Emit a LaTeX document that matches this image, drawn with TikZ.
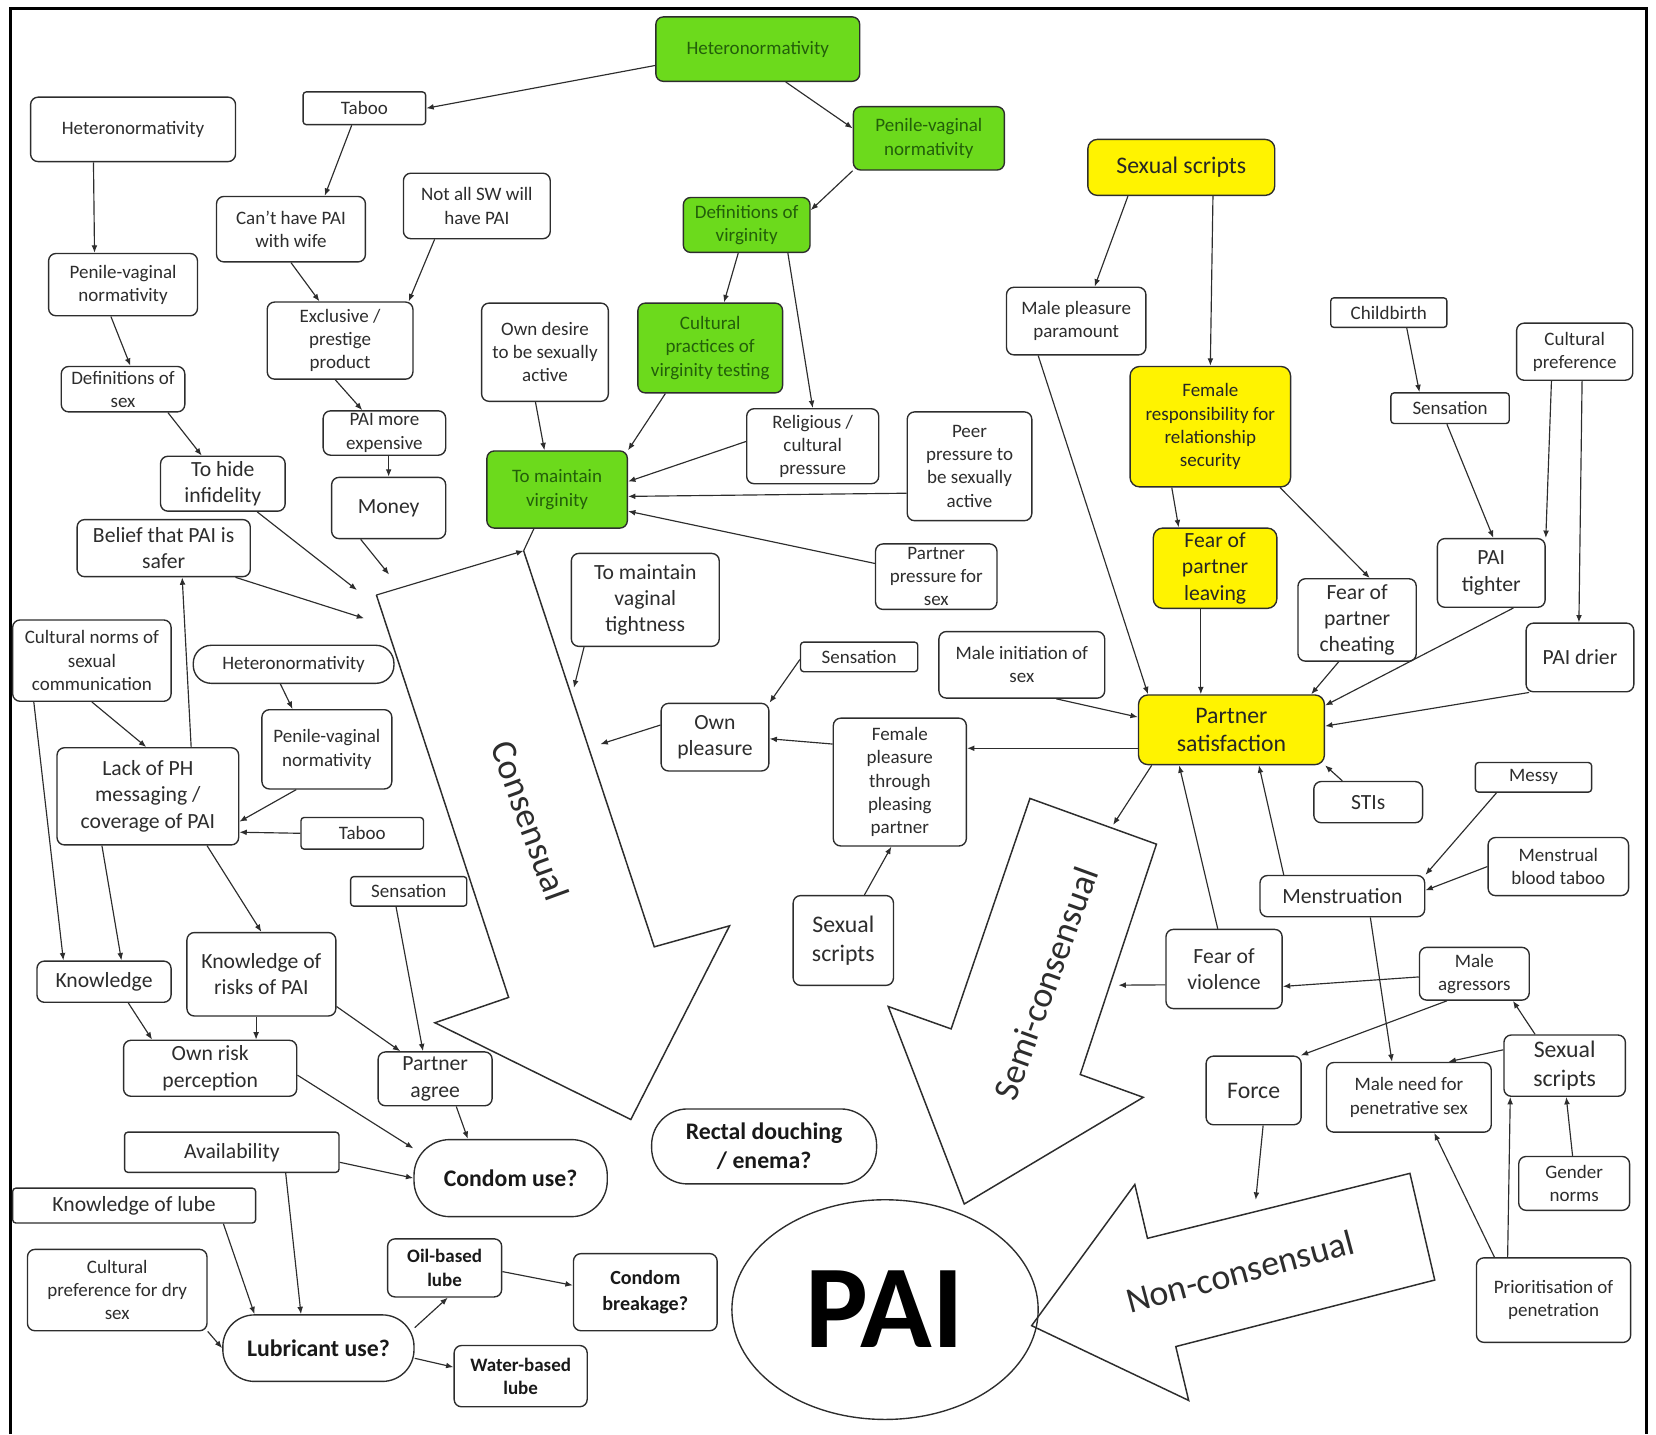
\documentclass[tikz,border=0pt]{standalone}
\usepackage{fontspec}
\setmainfont{Carlito}
\usetikzlibrary{arrows.meta,shapes.geometric}
\definecolor{leafgreen}{RGB}{108,218,28}
\definecolor{darkleaf}{RGB}{35,95,10}
\definecolor{signyellow}{RGB}{255,243,0}
\definecolor{inkgray}{RGB}{45,45,45}
\newcommand{\szs}{\fontsize{18}{22}\selectfont}
\newcommand{\szm}{\fontsize{20.5}{25}\selectfont}
\newcommand{\szl}{\fontsize{22.5}{27}\selectfont}
\begin{document}
\begin{tikzpicture}[x=1pt,y=-1pt,
  base/.style={draw=inkgray, line width=1.3pt, inner sep=2pt, align=center, text=inkgray, font=\szs},
  wbox/.style={base, rounded corners=7pt, fill=white},
  sbox/.style={base, rounded corners=3pt, fill=white},
  gbox/.style={base, rounded corners=7pt, fill=leafgreen, text=darkleaf},
  ybox/.style={base, rounded corners=9pt, fill=signyellow, text=black!85},
  pill/.style={base, rounded corners=17pt, fill=white, text=black!90, font=\szl\bfseries},
  bbox/.style={wbox, text=black!90, font=\szs\bfseries},
  link/.style={-{Latex[length=7pt,width=5.5pt]}, line width=1.1pt, draw=inkgray},
  bigarrow/.style={draw=inkgray, line width=1.4pt, fill=white, line join=miter},
  bigtext/.style={font=\fontsize{34}{34}\selectfont, text=inkgray}]
\useasboundingbox (0,0) rectangle (1568,1358);
\draw[line width=2.2pt] (10,1358) -- (10,8) -- (1559,8) -- (1559,1358);

\coordinate (consA) at (356.4,563.4);
\coordinate (consB) at (495.8,521.5);
\draw[bigarrow] (consB) -- (619.5,896.5) -- (690.8,876.6) -- (597.3,1060) -- (411.8,968.4) -- (481.6,944.4) -- (consA);
\draw[link] (consA) -- (consB);
\node[bigtext, rotate=-70] (conslabel) at (502,777) {Consensual};
\draw[bigarrow] (975.2,756) -- (1095,799.3) -- (1022.8,1017.4) -- (1082.5,1039) -- (913,1140) -- (841,953) -- (900.6,974.2) -- cycle;
\node[bigtext, rotate=70] (semilabel) at (990,931) {Semi-consensual};
\draw[bigarrow] (976.8,1255.2) -- (1074.5,1121.5) -- (1086.5,1172.5) -- (1335,1111) -- (1358.5,1212) -- (1113.3,1275) -- (1125.5,1326) -- cycle;
\node[bigtext, rotate=15] (nonlabel) at (1174,1204) {Non-consensual};
\node[draw=inkgray, line width=1.3pt, ellipse, minimum width=290pt, minimum height=208pt, inner sep=0pt, text=black, font=\fontsize{112}{112}\selectfont\bfseries] (pai) at (838,1240) {\raisebox{-10pt}{PAI}};

\node[gbox, minimum width=193pt, minimum height=61pt] (heteroG) at (717.5,46.5) {Heteronormativity};
\node[gbox, minimum width=143pt, minimum height=60pt] (pvnG) at (879.5,131) {Penile-vaginal\\normativity};
\node[gbox, minimum width=120pt, minimum height=52pt] (defvirG) at (707,213) {Definitions of\\virginity};
\node[gbox, minimum width=137pt, minimum height=85pt] (cultG) at (672.5,329.5) {Cultural\\practices of\\virginity testing};
\node[gbox, minimum width=133pt, minimum height=73pt] (virgG) at (527.5,463.5) {To maintain\\virginity};
\node[ybox, font=\szl, minimum width=177pt, minimum height=53pt] (scriptsY) at (1118.5,158.5) {Sexual scripts};
\node[ybox, minimum width=152pt, minimum height=114pt] (femrespY) at (1146,404) {Female\\responsibility for\\relationship\\security};
\node[ybox, font=\szm, minimum width=117pt, minimum height=76pt] (fearleaveY) at (1150.5,538) {Fear of\\partner\\leaving};
\node[ybox, font=\szl, minimum width=176pt, minimum height=66pt] (partsatY) at (1166,691) {Partner\\satisfaction};

\node[sbox, minimum width=116pt, minimum height=31pt] (taboo1) at (345,102.5) {Taboo};
\node[wbox, minimum width=194pt, minimum height=61pt] (hetero1) at (126,122.5) {Heteronormativity};
\node[wbox, minimum width=141pt, minimum height=62pt] (cant) at (275.5,217) {Can't have PAI\\with wife};
\node[wbox, minimum width=139pt, minimum height=62pt] (notall) at (451.5,195) {Not all SW will\\have PAI};
\node[wbox, minimum width=141pt, minimum height=59pt] (pvn1) at (116.5,269.5) {Penile-vaginal\\normativity};
\node[wbox, minimum width=138pt, minimum height=73pt] (excl) at (322,322.5) {Exclusive /\\prestige\\product};
\node[wbox, minimum width=117pt, minimum height=43pt] (defsex) at (116.5,368.5) {Definitions of\\sex};
\node[wbox, minimum width=120pt, minimum height=93pt] (owndesire) at (516,333.5) {Own desire\\to be sexually\\active};
\node[wbox, minimum width=116pt, minimum height=42pt] (paimore) at (364,410) {PAI more\\expensive};
\node[wbox, font=\szm, minimum width=118pt, minimum height=52pt] (hide) at (211,458) {To hide\\infidelity};
\node[wbox, font=\szm, minimum width=108pt, minimum height=58pt] (money) at (368,481) {Money};
\node[wbox, font=\szm, minimum width=164pt, minimum height=54pt] (belief) at (155,519) {Belief that PAI is\\safer};
\node[wbox, minimum width=125pt, minimum height=71pt] (religious) at (769.5,422.5) {Religious /\\cultural\\pressure};
\node[wbox, minimum width=118pt, minimum height=103pt] (peer) at (918,441.5) {Peer\\pressure to\\be sexually\\active};
\node[wbox, minimum width=132pt, minimum height=64pt] (malepleas) at (1019,304) {Male pleasure\\paramount};
\node[sbox, minimum width=110pt, minimum height=28pt] (childbirth) at (1315,296) {Childbirth};
\node[wbox, minimum width=110pt, minimum height=54pt] (cultpref) at (1491,333) {Cultural\\preference};
\node[sbox, minimum width=112pt, minimum height=29pt] (sensR) at (1373,386.5) {Sensation};
\node[wbox, font=\szm, minimum width=102pt, minimum height=65pt] (paitight) at (1412,542.5) {PAI\\tighter};
\node[wbox, font=\szm, minimum width=102pt, minimum height=65pt] (paidrier) at (1496,622.5) {PAI drier};
\node[wbox, font=\szm, minimum width=112pt, minimum height=78pt] (fearcheat) at (1285,587) {Fear of\\partner\\cheating};
\node[wbox, minimum width=115pt, minimum height=62pt] (partpress) at (886.5,546) {Partner\\pressure for\\sex};
\node[wbox, font=\szm, minimum width=140pt, minimum height=88pt] (vagtight) at (611,568) {To maintain\\vaginal\\tightness};
\node[sbox, minimum width=111pt, minimum height=28pt] (sensM) at (813.5,622) {Sensation};
\node[wbox, minimum width=157pt, minimum height=63pt] (maleinit) at (967.5,629.5) {Male initiation of\\sex};
\node[wbox, font=\szm, minimum width=102pt, minimum height=64pt] (ownpleas) at (677,698) {Own\\pleasure};
\node[wbox, minimum width=126pt, minimum height=121pt] (fempleas) at (852,740.5) {Female\\pleasure\\through\\pleasing\\partner};
\node[wbox, font=\szl, minimum width=95pt, minimum height=85pt] (scriptsM) at (798.5,890.5) {Sexual\\scripts};
\node[wbox, font=\szm, minimum width=103pt, minimum height=39pt] (stis) at (1295.5,759.5) {STIs};
\node[sbox, minimum width=110pt, minimum height=28pt] (messy) at (1452,736) {Messy};
\node[wbox, minimum width=133pt, minimum height=55pt] (menstaboo) at (1475.5,820.5) {Menstrual\\blood taboo};
\node[wbox, font=\szm, minimum width=156pt, minimum height=39pt] (mens) at (1271,848.5) {Menstruation};
\node[wbox, font=\szm, minimum width=110pt, minimum height=75pt] (fearviol) at (1159,917.5) {Fear of\\violence};
\node[wbox, minimum width=104pt, minimum height=50pt] (maleagr) at (1396,922) {Male\\agressors};
\node[wbox, font=\szl, minimum width=90pt, minimum height=65pt] (force) at (1187,1032.5) {Force};
\node[wbox, minimum width=156pt, minimum height=66pt] (maleneed) at (1334,1039) {Male need for\\penetrative sex};
\node[wbox, font=\szl, minimum width=115pt, minimum height=58pt] (scriptsR) at (1481.5,1009) {Sexual\\scripts};
\node[wbox, minimum width=105pt, minimum height=51pt] (gender) at (1490.5,1120.5) {Gender\\norms};
\node[wbox, minimum width=146pt, minimum height=80pt] (priorit) at (1471,1231) {Prioritisation of\\penetration};
\node[wbox, minimum width=150pt, minimum height=77pt] (cultnorms) at (87,625.5) {Cultural norms of\\sexual\\communication};
\node[wbox, rounded corners=17pt, minimum width=190pt, minimum height=36pt] (heteroP) at (278,629) {Heteronormativity};
\node[wbox, minimum width=123pt, minimum height=75pt] (pvn2) at (309.5,709.5) {Penile-vaginal\\normativity};
\node[wbox, font=\szm, minimum width=172pt, minimum height=92pt] (lack) at (140,754) {Lack of PH\\messaging /\\coverage of PAI};
\node[sbox, minimum width=116pt, minimum height=30pt] (taboo2) at (343,789) {Taboo};
\node[sbox, minimum width=110pt, minimum height=28pt] (sensL) at (387,844) {Sensation};
\node[wbox, font=\szm, minimum width=127pt, minimum height=39pt] (knowledge) at (98.5,929.5) {Knowledge};
\node[wbox, font=\szm, minimum width=141pt, minimum height=79pt] (knowrisk) at (247.5,922.5) {Knowledge of\\risks of PAI};
\node[wbox, font=\szm, minimum width=164pt, minimum height=53pt] (ownrisk) at (199,1011.5) {Own risk\\perception};
\node[wbox, font=\szm, minimum width=108pt, minimum height=51pt] (partagree) at (412,1021.5) {Partner\\agree};
\node[sbox, font=\szm, minimum width=203pt, minimum height=38pt] (avail) at (219.5,1091) {Availability};
\node[pill, rounded corners=34pt, minimum width=183pt, minimum height=73pt] (condom) at (483.5,1115.5) {Condom use?};
\node[sbox, font=\szm, minimum width=230pt, minimum height=33pt] (knowlube) at (127,1141.5) {Knowledge of lube};
\node[wbox, minimum width=170pt, minimum height=77pt] (cultdry) at (111,1221.5) {Cultural\\preference for dry\\sex};
\node[pill, rounded corners=30pt, minimum width=181pt, minimum height=63pt] (lubric) at (301.5,1276.5) {Lubricant use?};
\node[bbox, minimum width=108pt, minimum height=55pt] (oil) at (421,1200.5) {Oil-based\\lube};
\node[bbox, minimum width=126pt, minimum height=58pt] (water) at (493,1303) {Water-based\\lube};
\node[bbox, font=\fontsize{19}{24}\selectfont\bfseries, minimum width=136pt, minimum height=73pt] (breakage) at (611,1223.5) {Condom\\breakage?};
\node[pill, rounded corners=34pt, minimum width=213pt, minimum height=71pt] (rectal) at (723.5,1085.5) {Rectal douching\\/ enema?};

\coordinate (hideEnd) at (338,558.7);
\coordinate (moneyEnd) at (368.4,544);
\coordinate (beliefEnd) at (344.8,585.5);
\coordinate (vagEnd) at (543.4,651.2);
\coordinate (ownEnd) at (568.5,704.6);
\coordinate (satEnd) at (1054,781);
\coordinate (violEnd) at (1059,932.8);
\coordinate (forceEnd) at (1189,1136);

\draw[link] ([yshift=-15.5pt]heteroG.west) -- (taboo1.east);
\draw[link] ([xshift=26.5pt]heteroG.south) -- ([yshift=9.5pt]pvnG.west);
\draw[link] (pvnG.south west) -- ([yshift=14pt]defvirG.east);
\draw[link] ([xshift=-8pt]defvirG.south) -- ([xshift=13pt]cultG.north);
\draw[link] ([xshift=39pt]defvirG.south) -- (religious.north);
\draw[link] ([xshift=-42.5pt]cultG.south) -- (virgG.north east);
\draw[link] ([xshift=-9pt]owndesire.south) -- ([xshift=-12pt]virgG.north);
\draw[link] ([yshift=4.5pt]religious.west) -- ([yshift=7.5pt]virgG.east);
\draw[link] ([yshift=-25.5pt]peer.west) -- ([yshift=-6.5pt]virgG.east);
\draw[link] ([yshift=12.5pt]partpress.west) -- ([yshift=-20.5pt]virgG.east);
\draw[line width=1.1pt, draw=inkgray] ([xshift=-22pt]virgG.south) -- (consB);

\draw[link] ([xshift=-12pt]taboo1.south) -- ([xshift=32pt]cant.north);
\draw[link] (cant.south) -- ([xshift=-19.5pt]excl.north);
\draw[link] ([xshift=-40pt]notall.south) -- ([xshift=65pt]excl.north);
\draw[link] ([xshift=-4.5pt]excl.south) -- ([xshift=-21pt]paimore.north);
\draw[link] ([xshift=4pt]paimore.south) -- (money.north);
\draw[link] ([xshift=-37.5pt]hetero1.south) -- ([xshift=-27pt]pvn1.north);
\draw[link] ([xshift=-11.5pt]pvn1.south) -- ([xshift=7pt]defsex.north);
\draw[link] ([xshift=42.5pt]defsex.south) -- ([xshift=-20pt]hide.north);
\draw[link] ([xshift=32.5pt]hide.south) -- (hideEnd);
\draw[link] ([xshift=-26.5pt]money.south) -- (moneyEnd);
\draw[link] ([xshift=68pt]belief.south) -- (beliefEnd);
\draw[link] ([xshift=41pt]lack.north) -- ([xshift=17.5pt]belief.south);
\draw[link] (cultnorms.south) -- ([xshift=-1.5pt]lack.north);
\draw[link] ([xshift=-55pt]cultnorms.south) -- ([xshift=-38.5pt]knowledge.north);
\draw[link] ([xshift=-12.5pt]heteroP.south) -- ([xshift=-32.5pt]pvn2.north);
\draw[link] ([xshift=-29pt]pvn2.south) -- ([yshift=-24pt]lack.east);
\draw[link] (taboo2.west) -- ([yshift=-34pt]lack.east);
\draw[link] ([xshift=-43.5pt]lack.south) -- ([xshift=16.5pt]knowledge.north);
\draw[link] ([xshift=56pt]lack.south) -- (knowrisk.north);
\draw[link] ([xshift=23pt]knowledge.south) -- ([xshift=-55pt]ownrisk.north);
\draw[link] ([xshift=-5pt]knowrisk.south) -- ([xshift=43.5pt]ownrisk.north);
\draw[link] ([yshift=-30.5pt]knowrisk.east) -- ([xshift=-33pt]partagree.north);
\draw[link] ([xshift=-12pt]sensL.south) -- ([xshift=-11.5pt]partagree.north);
\draw[link] ([yshift=-6.5pt]ownrisk.east) -- (condom.163);
\draw[link] ([xshift=20pt]partagree.south) -- ([xshift=-40.5pt]condom.north);
\draw[link] ([yshift=-9.5pt]avail.east) -- (condom.west);
\draw[link] ([xshift=51pt]avail.south) -- ([xshift=-16.5pt]lubric.north);
\draw[link] ([xshift=84.5pt]knowlube.south) -- ([xshift=-60.5pt]lubric.north);
\draw[link] (cultdry.south east) -- (lubric.west);
\draw[link] (lubric.12) -- ([xshift=3pt]oil.south);
\draw[link] (lubric.-6) -- ([yshift=8.5pt]water.west);
\draw[link] ([yshift=-3.5pt]oil.east) -- ([yshift=6.5pt]breakage.west);

\draw[link] ([xshift=-58pt]vagtight.south) -- (vagEnd);
\draw[link] ([yshift=11.5pt]ownpleas.west) -- (ownEnd);
\draw[link] ([yshift=-2.5pt]sensM.west) -- (ownpleas.north east);
\draw[link] ([yshift=36pt]fempleas.west) -- ([yshift=-1.5pt]ownpleas.east);
\draw[link] ([yshift=-17.5pt]partsatY.west) -- ([yshift=32pt]fempleas.east);
\draw[link] ([xshift=20pt]scriptsM.north) -- ([xshift=-8pt]fempleas.south);
\draw[link] ([xshift=32.5pt]maleinit.south) -- ([yshift=12pt]partsatY.west);
\draw[link] ([xshift=-36pt]malepleas.south) -- ([xshift=-79pt]partsatY.north);
\draw[link] ([xshift=-50.5pt]scriptsY.south) -- ([xshift=17.5pt]malepleas.north);
\draw[link] ([xshift=30pt]scriptsY.south) -- (femrespY.north);
\draw[link] ([xshift=-36.5pt]femrespY.south) -- ([xshift=-34.5pt]fearleaveY.north);
\draw[link] ([xshift=66pt]femrespY.south) -- ([xshift=12pt]fearcheat.north);
\draw[link] ([xshift=-13.5pt]fearleaveY.south) -- ([xshift=-29pt]partsatY.north);
\draw[link] ([xshift=-17.5pt]fearcheat.south) -- ([xshift=75.5pt]partsatY.north);
\draw[link] ([xshift=21pt]paitight.south) -- ([yshift=23pt]partsatY.east);
\draw[link] ([xshift=3.5pt]paidrier.south west) -- ([yshift=3.5pt]partsatY.east);
\draw[link] ([xshift=17pt]childbirth.south) -- ([xshift=-29pt]sensR.north);
\draw[link] ([xshift=-3pt]sensR.south) -- ([xshift=2pt]paitight.north);
\draw[link] ([xshift=-22pt]cultpref.south) -- (paitight.north east);
\draw[link] ([xshift=7pt]cultpref.south) -- ([xshift=-1pt]paidrier.north);
\draw[link] ([xshift=-24.5pt]stis.north) -- (partsatY.south east);
\draw[link] ([xshift=-55.5pt]mens.north) -- ([xshift=26pt]partsatY.south);
\draw[link] ([xshift=-6pt]fearviol.north) -- ([xshift=-49.5pt]partsatY.south);
\draw[link] ([xshift=-75.5pt]partsatY.south) -- (satEnd);
\draw[link] ([yshift=-15pt]fearviol.west) -- (violEnd);
\draw[link] ([yshift=-3pt]maleagr.west) -- ([yshift=-16.5pt]fearviol.east);
\draw[link] ([xshift=-35pt]messy.south) -- (mens.north east);
\draw[link] (menstaboo.west) -- ([yshift=5.5pt]mens.east);
\draw[link] ([xshift=26.5pt]mens.south) -- ([xshift=-16pt]maleneed.north);
\draw[link] ([xshift=-26pt]maleagr.south) -- ([xshift=-1pt]force.north east);
\draw[link] ([xshift=-28pt]scriptsR.north) -- ([xshift=36.5pt]maleagr.south);
\draw[link] ([yshift=15pt]scriptsR.west) -- ([xshift=37.5pt]maleneed.north);
\draw[link] ([xshift=-1.5pt]gender.north) -- ([xshift=1.5pt]scriptsR.south);
\draw[link] ([xshift=-56pt]priorit.north) -- ([xshift=24pt]maleneed.south);
\draw[link] ([xshift=-43.5pt]priorit.north) -- ([xshift=-51.5pt]scriptsR.south);
\draw[link] ([xshift=9pt]force.south) -- (forceEnd);
\end{tikzpicture}
\end{document}
